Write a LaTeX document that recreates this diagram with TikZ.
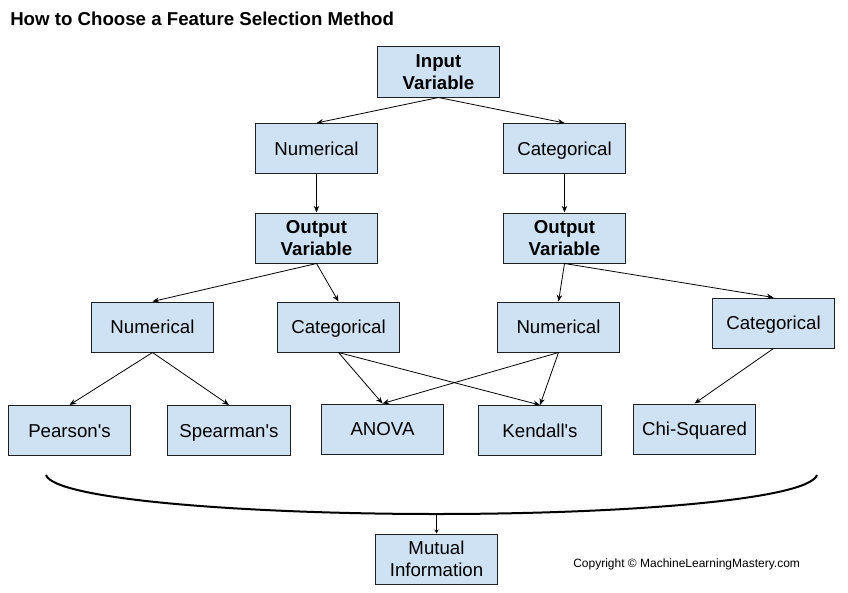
\documentclass[tikz,border=0pt]{standalone}
\usepackage{fontspec}
\setmainfont{Liberation Sans}
\usetikzlibrary{arrows.meta}
\definecolor{boxfill}{HTML}{CFE2F3}
\definecolor{boxline}{HTML}{202020}
\tikzset{
  box/.style={draw=boxline, fill=boxfill, line width=0.75pt, minimum width=92pt, minimum height=37.5pt, inner sep=0pt, align=center, font=\fontsize{14}{16.5}\selectfont},
  onebox/.style={box, text height=10pt, text depth=0pt},
  boldbox/.style={box, font=\fontsize{14}{16.5}\selectfont\bfseries},
  conn/.style={draw=black, line width=0.6pt, -{Stealth[length=5pt,width=4pt]}},
}
\begin{document}
\begin{tikzpicture}[x=0.75pt,y=-0.75pt]
\useasboundingbox (0,0) rectangle (848,592);
\node[anchor=base west, font=\fontsize{14}{16}\selectfont\bfseries, inner sep=0pt] (title) at (10,26) {How to Choose a Feature Selection Method};
\node[boldbox] (input) at (438.5,72) {Input\\Variable};
\node[onebox] (num1) at (316.5,148.5) {Numerical};
\node[onebox] (cat1) at (564.5,148.5) {Categorical};
\node[boldbox] (outL) at (316.5,238) {Output\\Variable};
\node[boldbox] (outR) at (564.5,238) {Output\\Variable};
\node[onebox] (numL) at (152.5,327) {Numerical};
\node[onebox] (catL) at (338.5,327) {Categorical};
\node[onebox] (numR) at (558.5,327) {Numerical};
\node[onebox] (catR) at (773.5,323) {Categorical};
\node[onebox] (pear) at (69.5,430.5) {Pearson\textquotesingle s};
\node[onebox] (spear) at (229,430.5) {Spearman\textquotesingle s};
\node[onebox] (anova) at (382.5,429) {ANOVA};
\node[onebox] (kend) at (540,430.5) {Kendall\textquotesingle s};
\node[onebox] (chi) at (694.5,429) {Chi-Squared};
\node[box] (mutual) at (436.5,559) {Mutual\\Information};
\node[anchor=base west, font=\fontsize{9}{11}\selectfont, inner sep=0pt] (copy) at (573,567) {Copyright © MachineLearningMastery.com};

\draw[conn] (input.south) -- (num1.north);
\draw[conn] (input.south) -- (cat1.north);
\draw[conn] (num1.south) -- (outL.north);
\draw[conn] (cat1.south) -- (outR.north);
\draw[conn] (outL.south) -- (numL.north);
\draw[conn] (outL.south) -- (catL.north);
\draw[conn] (outR.south) -- (numR.north);
\draw[conn] (outR.south) -- (catR.north);
\draw[conn] (numL.south) -- (pear.north);
\draw[conn] (numL.south) -- (spear.north);
\draw[conn] (catL.south) -- (anova.north);
\draw[conn] (catL.south) -- (kend.north);
\draw[conn] (numR.south) -- (anova.north);
\draw[conn] (numR.south) -- (kend.north);
\draw[conn] (catR.south) -- (chi.north);

\coordinate (bl) at (46,475);
\coordinate (bm) at (436.5,514);
\coordinate (br) at (817,475);
\draw[line width=1.5pt] (bl) .. controls (55,500) and (250,514) .. (bm) .. controls (623,514) and (808,500) .. (br);
\draw[line width=0.9pt, -{Stealth[length=3pt,width=3pt]}] (bm) -- (mutual.north);
\end{tikzpicture}
\end{document}
